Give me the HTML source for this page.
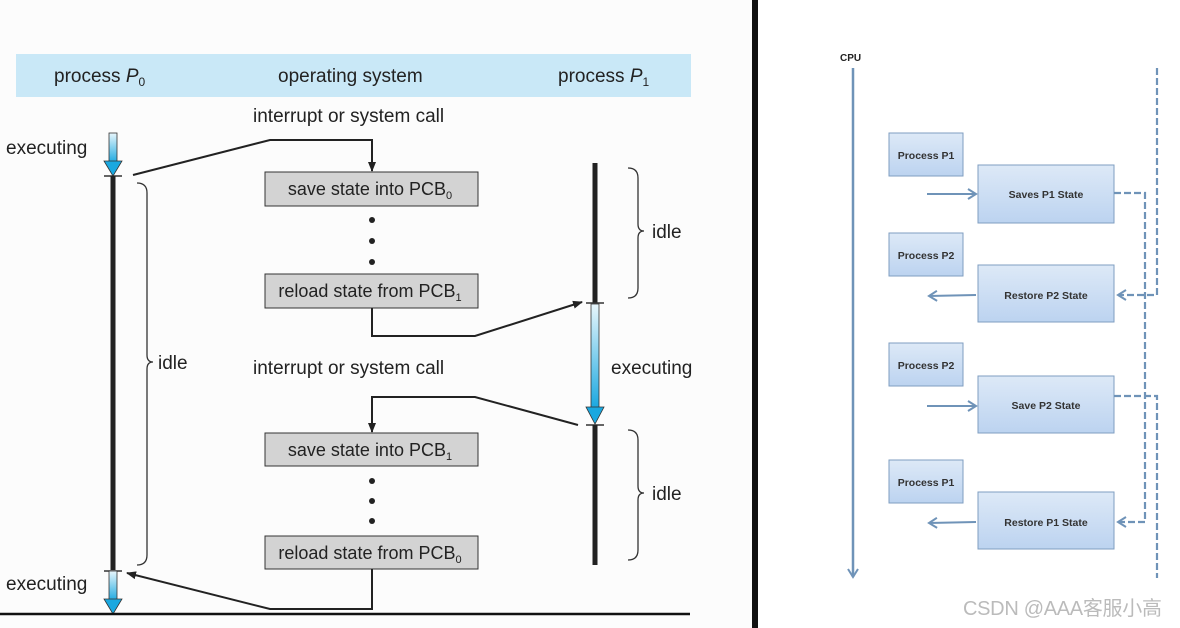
<!DOCTYPE html>
<html><head><meta charset="utf-8"><style>
html,body{margin:0;padding:0;background:#fff;}
svg{display:block;}
text{font-family:"Liberation Sans","Noto Sans CJK SC",sans-serif;}
</style></head><body>
<svg width="1180" height="628" viewBox="0 0 1180 628" xmlns="http://www.w3.org/2000/svg">
<defs>
<linearGradient id="bl" x1="0" y1="0" x2="0" y2="1"><stop offset="0" stop-color="#e8f6fc"/><stop offset="1" stop-color="#1aa8e0"/></linearGradient>
<linearGradient id="bx" x1="0" y1="0" x2="0" y2="1"><stop offset="0" stop-color="#dde9f7"/><stop offset="1" stop-color="#bcd3f0"/></linearGradient>
<marker id="ah" markerWidth="10" markerHeight="10" refX="9" refY="5" orient="auto" markerUnits="userSpaceOnUse"><path d="M0,1 L10,5 L0,9 Z" fill="#222"/></marker>
<marker id="ab" markerWidth="12" markerHeight="12" refX="10" refY="6" orient="auto" markerUnits="userSpaceOnUse"><path d="M2,1 L10,6 L2,11" fill="none" stroke="#6f93b8" stroke-width="2"/></marker>
</defs>
<rect x="0" y="0" width="752" height="628" fill="#fcfcfc"/>
<rect x="752" y="0" width="6" height="628" fill="#111"/>
<rect x="16" y="54" width="675" height="43" fill="#c9e8f7"/>
<g font-size="19" fill="#222">
<text x="54" y="82">process <tspan font-style="italic">P</tspan><tspan font-size="12" dy="4">0</tspan></text>
<text x="278" y="82">operating system</text>
<text x="558" y="82">process <tspan font-style="italic">P</tspan><tspan font-size="12" dy="4">1</tspan></text>
<text x="253" y="122">interrupt or system call</text>
<text x="253" y="374">interrupt or system call</text>
<text x="6" y="154">executing</text>
<text x="6" y="590">executing</text>
<text x="611" y="374">executing</text>
<text x="158" y="369">idle</text>
<text x="652" y="238">idle</text>
<text x="652" y="500">idle</text>
</g>
<rect x="109" y="133" width="8" height="30" fill="url(#bl)" stroke="#333" stroke-width="0.8"/>
<path d="M104,161 L122,161 L113,176 Z" fill="#1aa8e0" stroke="#333" stroke-width="0.8"/>
<line x1="104" y1="176" x2="122" y2="176" stroke="#333" stroke-width="1.5"/>
<line x1="113" y1="176" x2="113" y2="570" stroke="#222" stroke-width="5"/>
<line x1="104" y1="571" x2="122" y2="571" stroke="#333" stroke-width="1.5"/>
<rect x="109" y="571" width="8" height="30" fill="url(#bl)" stroke="#333" stroke-width="0.8"/>
<path d="M104,599 L122,599 L113,614 Z" fill="#1aa8e0" stroke="#333" stroke-width="0.8"/>
<line x1="0" y1="614" x2="690" y2="614" stroke="#111" stroke-width="2.5"/>
<path d="M137,183 Q147,183 147,193 L147,355 Q147,362 153,362 Q147,362 147,369 L147,555 Q147,565 137,565" fill="none" stroke="#333" stroke-width="1.3"/>
<line x1="595" y1="163" x2="595" y2="303" stroke="#222" stroke-width="5"/>
<line x1="586" y1="303" x2="604" y2="303" stroke="#333" stroke-width="1.5"/>
<rect x="591" y="304" width="8" height="104" fill="url(#bl)" stroke="#333" stroke-width="0.8"/>
<path d="M586,407 L604,407 L595,424 Z" fill="#1aa8e0" stroke="#333" stroke-width="0.8"/>
<line x1="586" y1="425" x2="604" y2="425" stroke="#333" stroke-width="1.5"/>
<line x1="595" y1="425" x2="595" y2="565" stroke="#222" stroke-width="5"/>
<path d="M628,168 Q638,168 638,178 L638,224 Q638,231 644,231 Q638,231 638,238 L638,288 Q638,298 628,298" fill="none" stroke="#333" stroke-width="1.3"/>
<path d="M628,430 Q638,430 638,440 L638,486 Q638,493 644,493 Q638,493 638,500 L638,550 Q638,560 628,560" fill="none" stroke="#333" stroke-width="1.3"/>
<g fill="#d3d3d3" stroke="#333" stroke-width="1">
<rect x="265" y="172" width="213" height="34"/>
<rect x="265" y="274" width="213" height="34"/>
<rect x="265" y="433" width="213" height="33"/>
<rect x="265" y="536" width="213" height="33"/>
</g>
<g font-size="18" fill="#222" text-anchor="middle">
<text x="370" y="195">save state into PCB<tspan font-size="11" dy="4">0</tspan></text>
<text x="370" y="297">reload state from PCB<tspan font-size="11" dy="4">1</tspan></text>
<text x="370" y="456">save state into PCB<tspan font-size="11" dy="4">1</tspan></text>
<text x="370" y="559">reload state from PCB<tspan font-size="11" dy="4">0</tspan></text>
</g>
<g fill="#222"><circle cx="372" cy="220" r="3"/><circle cx="372" cy="241" r="3"/><circle cx="372" cy="262" r="3"/>
<circle cx="372" cy="481" r="3"/><circle cx="372" cy="501" r="3"/><circle cx="372" cy="521" r="3"/></g>
<g fill="none" stroke="#222" stroke-width="2">
<polyline points="133,175 270,140 372,140 372,171" marker-end="url(#ah)"/>
<polyline points="372,308 372,336 475,336 582,302" marker-end="url(#ah)"/>
<polyline points="578,425 475,397 372,397 372,432" marker-end="url(#ah)"/>
<polyline points="372,569 372,609 270,609 127,573" marker-end="url(#ah)"/>
</g>
<text x="840" y="61" font-size="10" font-weight="bold" fill="#222">CPU</text>
<line x1="853" y1="68" x2="853" y2="577" stroke="#6f93b8" stroke-width="2.5" marker-end="url(#ab)"/>
<g fill="url(#bx)" stroke="#7f9ec0" stroke-width="1">
<rect x="889" y="133" width="74" height="43"/>
<rect x="978" y="165" width="136" height="58"/>
<rect x="889" y="233" width="74" height="43"/>
<rect x="978" y="265" width="136" height="57"/>
<rect x="889" y="343" width="74" height="43"/>
<rect x="978" y="376" width="136" height="57"/>
<rect x="889" y="460" width="74" height="43"/>
<rect x="978" y="492" width="136" height="57"/>
</g>
<g font-size="10.5" font-weight="bold" fill="#333" text-anchor="middle">
<text x="926" y="159">Process P1</text>
<text x="1046" y="198">Saves P1 State</text>
<text x="926" y="259">Process P2</text>
<text x="1046" y="299">Restore P2 State</text>
<text x="926" y="369">Process P2</text>
<text x="1046" y="409">Save P2 State</text>
<text x="926" y="486">Process P1</text>
<text x="1046" y="526">Restore P1 State</text>
</g>
<g stroke="#6f93b8" stroke-width="2" fill="none">
<line x1="927" y1="194" x2="976" y2="194" marker-end="url(#ab)"/>
<line x1="976" y1="295" x2="929" y2="296" marker-end="url(#ab)"/>
<line x1="927" y1="406" x2="976" y2="406" marker-end="url(#ab)"/>
<line x1="976" y1="522" x2="929" y2="523" marker-end="url(#ab)"/>
</g>
<g stroke="#6f93b8" stroke-width="2.2" fill="none" stroke-dasharray="7,3">
<polyline points="1157,68 1157,295 1118,295" marker-end="url(#ab)"/>
<polyline points="1114,193 1145,193 1145,522 1118,522" marker-end="url(#ab)"/>
<polyline points="1114,396 1157,396 1157,578"/>
</g>
<text x="963" y="615" font-size="20" fill="#bbb" letter-spacing="-0.3">CSDN @AAA客服小高</text>
</svg>
</body></html>
